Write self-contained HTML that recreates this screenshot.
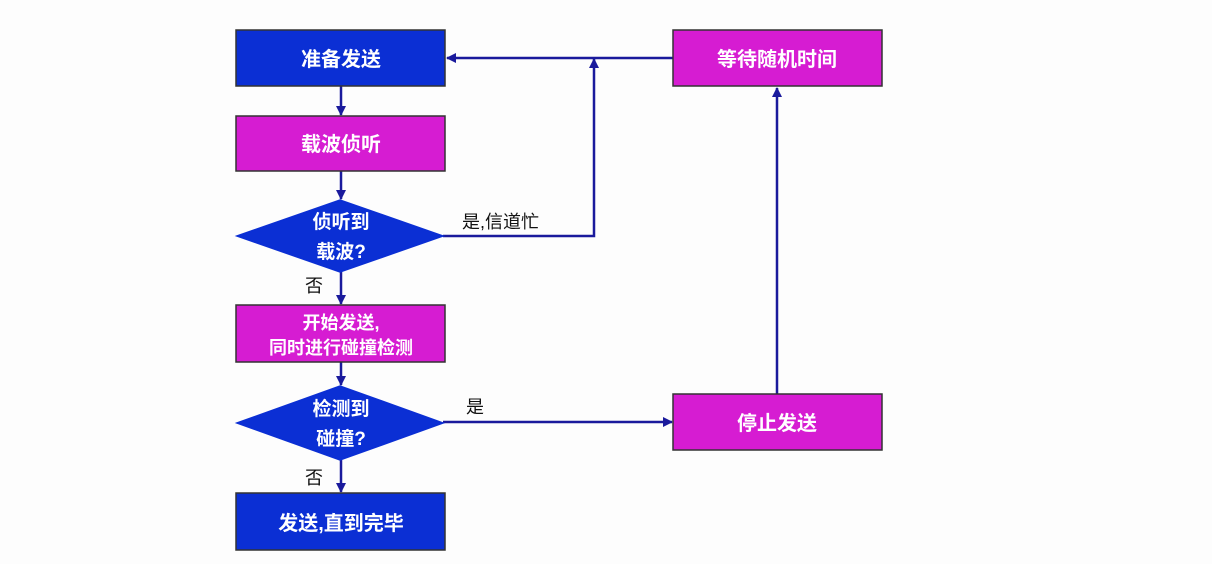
<!DOCTYPE html>
<html><head><meta charset="utf-8"><style>
body{margin:0;background:#fff;}
svg text{font-family:"Liberation Sans","Noto Sans CJK SC",sans-serif;font-weight:bold;}
</style></head><body>
<svg width="1212" height="564" viewBox="0 0 1212 564" xmlns="http://www.w3.org/2000/svg">
<defs><marker id="a" markerWidth="10" markerHeight="10" refX="9" refY="5" orient="auto" markerUnits="userSpaceOnUse"><path d="M0,0 L10,5 L0,10 Z" fill="#1a1a9c"/></marker></defs>
<rect width="1212" height="564" fill="#fdfdfd"/>
<g stroke="#1a1a9c" stroke-width="2.5" fill="none">
<line x1="341" y1="86" x2="341" y2="115" marker-end="url(#a)"/>
<line x1="341" y1="171" x2="341" y2="199" marker-end="url(#a)"/>
<line x1="341" y1="272" x2="341" y2="304" marker-end="url(#a)"/>
<line x1="341" y1="362" x2="341" y2="385" marker-end="url(#a)"/>
<line x1="341" y1="460" x2="341" y2="492" marker-end="url(#a)"/>
<polyline points="443,236 594,236 594,59" marker-end="url(#a)"/>
<line x1="673" y1="58" x2="447" y2="58" marker-end="url(#a)"/>
<line x1="443" y1="422" x2="672" y2="422" marker-end="url(#a)"/>
<line x1="777" y1="394" x2="777" y2="88" marker-end="url(#a)"/>
</g>
<g stroke="#333" stroke-width="1.5">
<rect x="236" y="30" width="209" height="56" fill="#0b2fd4"/>
<rect x="236" y="116" width="209" height="55" fill="#d61cd2"/>
<polygon points="237,236 340,200 443,236 340,272" fill="#0b2fd4" stroke="#0b2fd4"/>
<rect x="236" y="305" width="209" height="57" fill="#d61cd2"/>
<polygon points="237,423 340,386 443,423 340,460" fill="#0b2fd4" stroke="#0b2fd4"/>
<rect x="236" y="493" width="209" height="57" fill="#0b2fd4"/>
<rect x="673" y="30" width="209" height="56" fill="#d61cd2"/>
<rect x="673" y="394" width="209" height="56" fill="#d61cd2"/>
</g>
<g fill="#fff" text-anchor="middle" font-size="20">
<text x="341" y="66">准备发送</text>
<text x="341" y="151">载波侦听</text>
<text x="341" y="228" font-size="19">侦听到</text>
<text x="341" y="258" font-size="19">载波?</text>
<text x="341" y="329" font-size="18">开始发送,</text>
<text x="341" y="354" font-size="18">同时进行碰撞检测</text>
<text x="341" y="415" font-size="19">检测到</text>
<text x="341" y="445" font-size="19">碰撞?</text>
<text x="341" y="530">发送,直到完毕</text>
<text x="777" y="66">等待随机时间</text>
<text x="777" y="430">停止发送</text>
</g>
<g fill="#111" font-size="18" font-weight="normal">
<text x="462" y="228" style="font-weight:normal">是,信道忙</text>
<text x="305" y="292" style="font-weight:normal">否</text>
<text x="466" y="413" style="font-weight:normal">是</text>
<text x="305" y="484" style="font-weight:normal">否</text>
</g>
</svg>
</body></html>
